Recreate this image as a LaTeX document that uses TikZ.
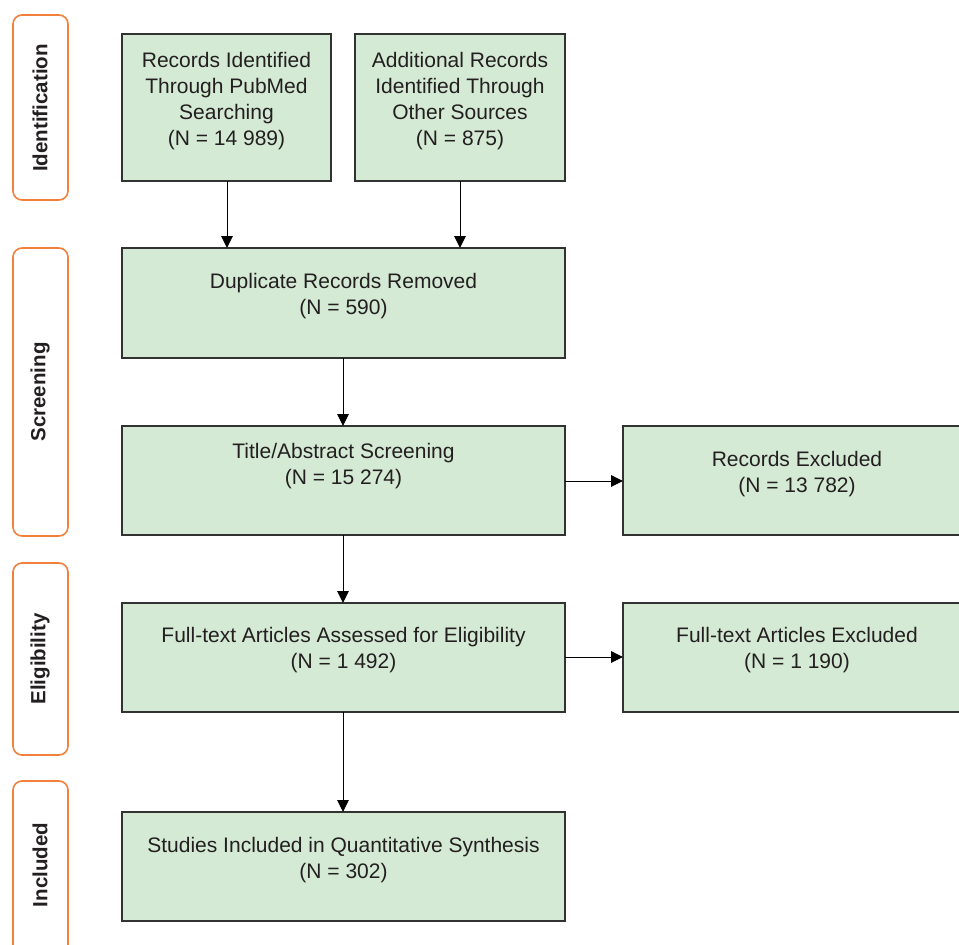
\documentclass[tikz,border=0pt]{standalone}
\usepackage{fontspec}
\setmainfont{Liberation Sans}
\usetikzlibrary{arrows.meta}
\definecolor{boxgreen}{RGB}{212,234,212}
\definecolor{boxline}{RGB}{50,50,50}
\definecolor{stageorange}{RGB}{242,128,58}
\definecolor{txt}{RGB}{35,31,32}
\begin{document}
\begin{tikzpicture}[x=1pt,y=-1pt,
  gbox/.style={draw=boxline,line width=1.2pt,fill=boxgreen},
  stagebox/.style={draw=stageorange,line width=1.6pt,rounded corners=9pt},
  lbl/.style={align=center,text=txt,font=\fontsize{21}{26}\selectfont,inner sep=0pt},
  stagelbl/.style={rotate=90,text=txt,font=\fontsize{20.5}{24}\selectfont\bfseries,inner sep=0pt},
  arr/.style={draw=black,line width=1pt,-{Triangle[length=12pt,width=11.5pt]}}]
\useasboundingbox (0,0) rectangle (959,945);
% stage boxes
\draw[stagebox] (13,15) rectangle (68,200);
\draw[stagebox] (13,248) rectangle (68,536);
\draw[stagebox] (13,563) rectangle (68,755);
\draw[stagebox] (13,781) rectangle (68,960);
\node[stagelbl] (sid) at (40,108) {Identification};
\node[stagelbl] (ssc) at (40,392) {Screening};
\node[stagelbl] (sel) at (40,659) {Eligibility};
\node[stagelbl] (sin) at (40,865) {Included};
% boxes
\path[gbox] (122,34) rectangle (331,181);
\path[gbox] (355,34) rectangle (565,181);
\path[gbox] (122,248) rectangle (565,358);
\path[gbox] (122,426) rectangle (565,535);
\path[gbox] (623,426) rectangle (965,535);
\path[gbox] (122,603) rectangle (565,712);
\path[gbox] (623,603) rectangle (965,712);
\path[gbox] (122,812) rectangle (565,921);
% named anchors
\coordinate (b1b) at (227,181);
\coordinate (b2b) at (460,181);
\coordinate (d1t) at (227,248);
\coordinate (d2t) at (460,248);
\coordinate (db) at (343,358);
\coordinate (tt) at (343,426);
\coordinate (tb) at (343,535);
\coordinate (tr) at (565,481);
\coordinate (rl) at (623,481);
\coordinate (ft) at (343,603);
\coordinate (fb) at (343,712);
\coordinate (fr) at (565,657);
\coordinate (fel) at (623,657);
\coordinate (st) at (343,812);
% texts
\node[lbl] (t1) at (226.5,101) {Records Identified\\Through PubMed\\Searching\\(N = 14 989)};
\node[lbl] (t2) at (460,101) {Additional Records\\Identified Through\\Other Sources\\(N = 875)};
\node[lbl] (t3) at (343.5,296) {Duplicate Records Removed\\(N = 590)};
\node[lbl] (t4) at (343.5,466) {Title/Abstract Screening\\(N = 15 274)};
\node[lbl] (t5) at (797,474) {Records Excluded\\(N = 13 782)};
\node[lbl] (t6) at (343.5,650) {Full-text Articles Assessed for Eligibility\\(N = 1 492)};
\node[lbl] (t7) at (797,650) {Full-text Articles Excluded\\(N = 1 190)};
\node[lbl] (t8) at (343.5,860) {Studies Included in Quantitative Synthesis\\(N = 302)};
% arrows
\draw[arr] (b1b) -- (d1t);
\draw[arr] (b2b) -- (d2t);
\draw[arr] (db) -- (tt);
\draw[arr] (tb) -- (ft);
\draw[arr] (fb) -- (st);
\draw[arr] (tr) -- (rl);
\draw[arr] (fr) -- (fel);
\end{tikzpicture}
\end{document}
